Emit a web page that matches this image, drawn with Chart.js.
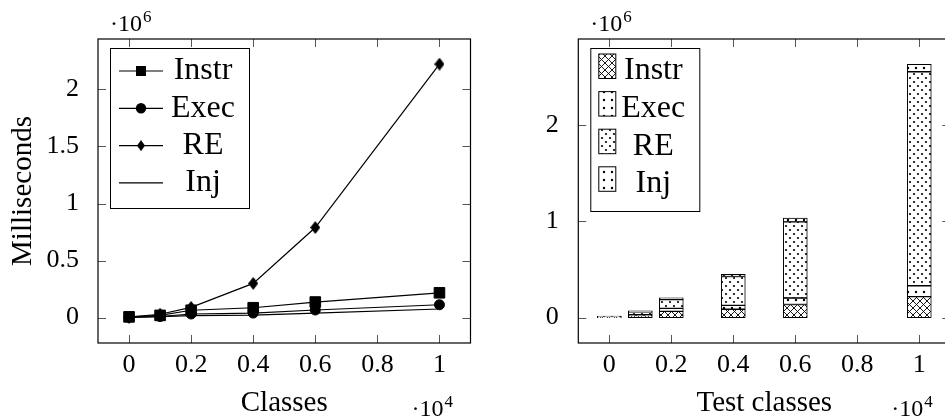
<!DOCTYPE html>
<html lang="en">
<head>
<meta charset="UTF-8">
<title>Classes vs milliseconds</title>
<style>
  body { margin: 0; background: #fff; overflow: hidden; }
  #wrap { position: relative; width: 945px; height: 419px; overflow: hidden; }
  #left { position: absolute; left: 0; top: 0; }
  #right { position: absolute; left: 472px; top: 0; }
</style>
</head>
<body>
<div id="wrap">
  <canvas id="left" width="472" height="419"></canvas>
  <canvas id="right" width="480" height="419"></canvas>
</div>
<script src="https://cdn.jsdelivr.net/npm/chart.js@4.4.1/dist/chart.umd.min.js"></script>
<script>
  // data (milliseconds per number of classes)
  const classes = [0, 1000, 2000, 4000, 6000, 10000];
  const instr = [7000, 20000, 65000, 87000, 137000, 218000];
  const exec = [3000, 10000, 32000, 40000, 67000, 113000];
  const re = [4000, 30000, 90000, 300000, 790000, 2222000];
  const inj = [2000, 10000, 18000, 22000, 40000, 76000];

  const xTicks = [0, 2000, 4000, 6000, 8000, 10000];
  const lineYTicks = [0, 500000, 1000000, 1500000, 2000000];
  const barYTicks = [0, 1000000, 2000000];
  const xRange = [-1000, 11000];
  const lineYRange = [-222000, 2442000];
  const barYRange = [-263000, 2893000];

  const FAM = '"Liberation Serif", serif';
  const tickFont = { family: FAM, size: 26 };
  const titleFont = { family: FAM, size: 29, lineHeight: 1.1 };

  function pts(ys) {
    return classes.map((c, i) => ({ x: c, y: ys[i] }));
  }
  function fmt(v) {
    return String(Number(v.toFixed(2)));
  }

  // fill patterns like pgfplots
  function makePattern(w, h, draw) {
    const c = document.createElement('canvas');
    c.width = w; c.height = h;
    const g = c.getContext('2d');
    g.fillStyle = '#fff';
    g.fillRect(0, 0, w, h);
    g.fillStyle = '#000';
    g.strokeStyle = '#000';
    draw(g);
    return g.createPattern(c, 'repeat');
  }
  const crosshatch = makePattern(7, 7, g => {
    g.lineWidth = 0.9;
    g.beginPath();
    g.moveTo(0, 0); g.lineTo(7, 7);
    g.moveTo(0, 7); g.lineTo(7, 0);
    g.stroke();
  });
  const dots = makePattern(8, 8, g => {
    g.beginPath(); g.arc(4, 4, 1.2, 0, Math.PI * 2); g.fill();
  });
  const crossDots = makePattern(8, 8, g => {
    g.beginPath(); g.arc(2, 2, 1.1, 0, Math.PI * 2); g.fill();
    g.beginPath(); g.arc(6, 6, 1.1, 0, Math.PI * 2); g.fill();
  });

  // pgf style diamond mark
  function diamond(w, h) {
    const c = document.createElement('canvas');
    c.width = w; c.height = h;
    const g = c.getContext('2d');
    g.fillStyle = '#000';
    g.beginPath();
    g.moveTo(w / 2, 0); g.lineTo(w, h / 2); g.lineTo(w / 2, h); g.lineTo(0, h / 2);
    g.closePath(); g.fill();
    return c;
  }
  const diamondMark = diamond(10, 13);
  const diamondSmall = diamond(8, 11);

  function drawExp(ctx, x, y, p) {
    ctx.fillStyle = '#000';
    ctx.textAlign = 'left';
    ctx.textBaseline = 'alphabetic';
    ctx.font = '24px ' + FAM;
    ctx.fillText('\u00b710', x, y);
    const w = ctx.measureText('\u00b710').width;
    ctx.font = '17px ' + FAM;
    ctx.fillText(p, x + w + 1, y - 9);
  }

  function pgfPlugin(drawLegend) {
    return {
      id: 'pgf',
      afterDraw(chart) {
        const { ctx, chartArea: a } = chart;
        const x = chart.scales.x, y = chart.scales.y;
        ctx.save();
        ctx.strokeStyle = '#555';
        ctx.lineWidth = 1;
        ctx.beginPath();
        x.ticks.forEach(t => {
          const px = Math.round(x.getPixelForValue(t.value)) + 0.5;
          ctx.moveTo(px, a.bottom); ctx.lineTo(px, a.bottom - 8);
          ctx.moveTo(px, a.top); ctx.lineTo(px, a.top + 8);
        });
        y.ticks.forEach(t => {
          const py = Math.round(y.getPixelForValue(t.value)) + 0.5;
          ctx.moveTo(a.left, py); ctx.lineTo(a.left + 8, py);
          ctx.moveTo(a.right, py); ctx.lineTo(a.right - 8, py);
        });
        ctx.stroke();
        ctx.strokeStyle = '#000';
        ctx.lineWidth = 1.2;
        ctx.strokeRect(a.left, a.top, a.right - a.left, a.bottom - a.top);
        drawExp(ctx, a.left + 12, 31, '6');
        drawExp(ctx, a.right - 59, 416, '4');
        drawLegend(ctx, a);
        ctx.restore();
      }
    };
  }

  function legendBox(ctx, bx, by, bw, bh) {
    ctx.fillStyle = '#fff';
    ctx.fillRect(bx, by, bw, bh);
    ctx.strokeStyle = '#000';
    ctx.lineWidth = 1;
    ctx.strokeRect(bx + 0.5, by + 0.5, bw, bh);
  }

  const lineLegend = [
    { label: 'Instr', mark: 'rect' },
    { label: 'Exec', mark: 'circle' },
    { label: 'RE', mark: 'diamond' },
    { label: 'Inj', mark: 'none' }
  ];
  const barLegend = [
    { label: 'Instr', fill: crosshatch },
    { label: 'Exec', fill: dots },
    { label: 'RE', fill: crossDots },
    { label: 'Inj', fill: dots }
  ];

  function drawLineLegend(ctx, a) {
    const bx = a.left + 12, by = a.top + 9;
    legendBox(ctx, bx, by, 139, 160);
    lineLegend.forEach((it, i) => {
      const cy = by + 23 + i * 37.3;
      ctx.strokeStyle = '#000';
      ctx.fillStyle = '#000';
      ctx.lineWidth = 1.2;
      ctx.beginPath();
      ctx.moveTo(bx + 9, cy); ctx.lineTo(bx + 53, cy);
      ctx.stroke();
      const mx = bx + 31;
      if (it.mark === 'rect') ctx.fillRect(mx - 5, cy - 5, 10, 10);
      if (it.mark === 'circle') { ctx.beginPath(); ctx.arc(mx, cy, 5.2, 0, Math.PI * 2); ctx.fill(); }
      if (it.mark === 'diamond') ctx.drawImage(diamondSmall, mx - 4, cy - 5.5);
      ctx.font = '32px ' + FAM;
      ctx.textAlign = 'center';
      ctx.textBaseline = 'middle';
      ctx.fillText(it.label, bx + 93, cy);
    });
  }

  function drawBarLegend(ctx, a) {
    const bx = a.left + 12, by = a.top + 9;
    legendBox(ctx, bx, by, 109, 163);
    barLegend.forEach((it, i) => {
      const cy = by + 23 + i * 37.6;
      ctx.fillStyle = it.fill;
      ctx.fillRect(bx + 8.5, cy - 17, 17, 24.5);
      ctx.strokeStyle = '#000';
      ctx.lineWidth = 1;
      ctx.strokeRect(bx + 8.5, cy - 17, 17, 24.5);
      ctx.fillStyle = '#000';
      ctx.font = '32px ' + FAM;
      ctx.textAlign = 'center';
      ctx.textBaseline = 'middle';
      ctx.fillText(it.label, bx + 63, cy);
    });
  }

  function xAxis(title, height) {
    return {
      type: 'linear',
      min: xRange[0],
      max: xRange[1],
      offset: false,
      afterBuildTicks: s => { s.ticks = xTicks.map(v => ({ value: v })); },
      afterFit: s => { s.height = height; },
      grid: { display: false, offset: false },
      border: { display: false },
      ticks: { color: '#000', font: tickFont, padding: -1, maxRotation: 0, autoSkip: false, callback: v => fmt(v / 1e4) },
      title: { display: true, text: title, color: '#000', font: titleFont, padding: 0 }
    };
  }

  function yAxis(range, ticks, width, pad) {
    return {
      type: 'linear',
      min: range[0],
      max: range[1],
      afterBuildTicks: s => { s.ticks = ticks.map(v => ({ value: v })); },
      afterFit: s => { s.width = width; },
      grid: { display: false },
      border: { display: false },
      ticks: { color: '#000', font: tickFont, padding: pad, autoSkip: false, callback: v => fmt(v / 1e6) }
    };
  }

  // left: line chart
  const leftY = yAxis(lineYRange, lineYTicks, 98, 11);
  leftY.title = { display: true, text: 'Milliseconds', color: '#000', font: titleFont, padding: { top: 7 } };

  const lineBase = { borderColor: '#000', borderWidth: 1.2, pointBackgroundColor: '#000', pointBorderColor: '#000', pointBorderWidth: 1, tension: 0 };

  new Chart(document.getElementById('left'), {
    type: 'line',
    data: {
      datasets: [
        Object.assign({ label: 'Instr', data: pts(instr), pointStyle: 'rect', pointRadius: 7.5 }, lineBase),
        Object.assign({ label: 'Exec', data: pts(exec), pointStyle: 'circle', pointRadius: 5 }, lineBase),
        Object.assign({ label: 'RE', data: pts(re), pointStyle: diamondMark, pointRadius: 6 }, lineBase),
        Object.assign({ label: 'Inj', data: pts(inj), pointRadius: 0 }, lineBase)
      ]
    },
    options: {
      responsive: false,
      animation: false,
      layout: { autoPadding: false, padding: { top: 39, right: 1.5, left: 0, bottom: 0 } },
      plugins: { legend: { display: false }, tooltip: { enabled: false } },
      scales: { x: xAxis('Classes', 76), y: leftY }
    },
    plugins: [pgfPlugin(drawLineLegend)]
  });

  // right: stacked bars
  const barBase = { borderColor: '#000', borderWidth: 1, borderSkipped: false, barThickness: 24 };
  const rightX = xAxis('Test classes', 76);
  rightX.stacked = true;
  const rightY = yAxis(barYRange, barYTicks, 106.3, 11.6);
  rightY.stacked = true;

  new Chart(document.getElementById('right'), {
    type: 'bar',
    data: {
      datasets: [
        Object.assign({ label: 'Instr', data: pts(instr), backgroundColor: crosshatch }, barBase),
        Object.assign({ label: 'Exec', data: pts(exec), backgroundColor: dots }, barBase),
        Object.assign({ label: 'RE', data: pts(re), backgroundColor: crossDots }, barBase),
        Object.assign({ label: 'Inj', data: pts(inj), backgroundColor: dots }, barBase)
      ]
    },
    options: {
      responsive: false,
      animation: false,
      layout: { autoPadding: false, padding: { top: 39, right: 1.7, left: 0, bottom: 0 } },
      plugins: { legend: { display: false }, tooltip: { enabled: false } },
      scales: { x: rightX, y: rightY }
    },
    plugins: [pgfPlugin(drawBarLegend)]
  });
</script>
</body>
</html>
